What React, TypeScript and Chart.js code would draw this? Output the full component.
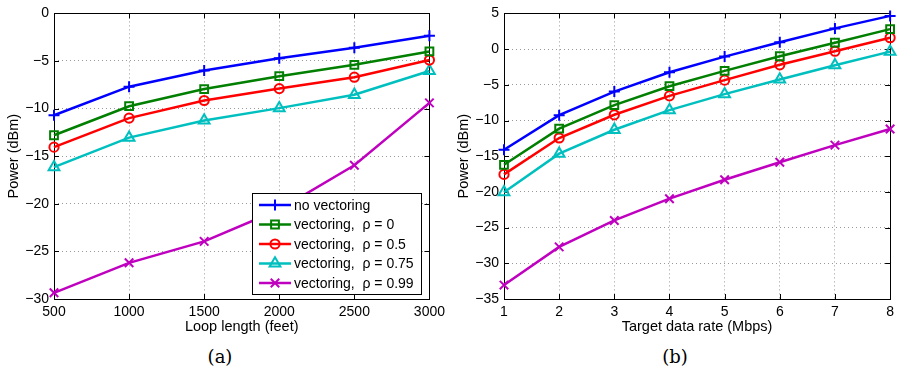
import React, { useEffect, useRef } from 'react';
import { Chart, registerables } from 'chart.js';

Chart.register(...registerables);

// ---------- data ----------
const seriesLabels = [
  'no vectoring',
  'vectoring,  ρ = 0',
  'vectoring,  ρ = 0.5',
  'vectoring,  ρ = 0.75',
  'vectoring,  ρ = 0.99',
];
const seriesColors = ['#0000ff', '#007f00', '#ff0000', '#00bfbf', '#bf00bf'];
const seriesMarkers = ['cross', 'rect', 'circle', 'triangle', 'crossRot'];
const markerSizes = [5.5, 5.5, 4.6, 6.2, 6];

// (a) power vs loop length
const loopLengthFeet = [500, 1000, 1500, 2000, 2500, 3000];
const aNoVectoring = [-10.7, -7.7, -6.0, -4.7, -3.6, -2.35];
const aRho0 = [-12.8, -9.75, -7.95, -6.6, -5.4, -4.0];
const aRho05 = [-14.05, -11.0, -9.15, -7.9, -6.7, -4.9];
const aRho075 = [-16.15, -13.05, -11.25, -9.95, -8.55, -6.05];
const aRho099 = [-29.35, -26.2, -23.95, -20.6, -15.95, -9.4];
const aXTicks = [500, 1000, 1500, 2000, 2500, 3000];
const aYTicks = [-30, -25, -20, -15, -10, -5, 0];

// (b) power vs target data rate
const dataRateMbps = [1, 2, 3, 4, 5, 6, 7, 8];
const bNoVectoring = [-14.1, -9.25, -5.95, -3.25, -1.05, 0.95, 2.9, 4.65];
const bRho0 = [-16.2, -11.15, -7.85, -5.2, -3.05, -1.0, 0.9, 2.8];
const bRho05 = [-17.55, -12.45, -9.2, -6.55, -4.35, -2.2, -0.3, 1.6];
const bRho075 = [-20.05, -14.65, -11.3, -8.55, -6.3, -4.25, -2.25, -0.35];
const bRho099 = [-33.05, -27.7, -24.0, -20.95, -18.3, -15.85, -13.45, -11.2];
const bXTicks = [1, 2, 3, 4, 5, 6, 7, 8];
const bYTicks = [-35, -30, -25, -20, -15, -10, -5, 0, 5];

const FONT = '"Liberation Sans", Arial, sans-serif';

function drawMarker(ctx: CanvasRenderingContext2D, style: string, x: number, y: number, r: number) {
  ctx.beginPath();
  if (style === 'cross') {
    ctx.moveTo(x - r, y); ctx.lineTo(x + r, y);
    ctx.moveTo(x, y - r); ctx.lineTo(x, y + r);
  } else if (style === 'crossRot') {
    const d = r * Math.SQRT1_2;
    ctx.moveTo(x - d, y - d); ctx.lineTo(x + d, y + d);
    ctx.moveTo(x - d, y + d); ctx.lineTo(x + d, y - d);
  } else if (style === 'rect') {
    const s = r * Math.SQRT1_2;
    ctx.rect(x - s, y - s, 2 * s, 2 * s);
  } else if (style === 'circle') {
    ctx.arc(x, y, r, 0, Math.PI * 2);
  } else if (style === 'triangle') {
    ctx.moveTo(x, y - r);
    ctx.lineTo(x + r * 0.866, y + r * 0.5);
    ctx.lineTo(x - r * 0.866, y + r * 0.5);
    ctx.closePath();
  }
  ctx.stroke();
}

const boxPlugin = {
  id: 'boxTicks',
  beforeDatasetsDraw(chart: any) {
    const { ctx, chartArea: ca } = chart;
    const xs = chart.scales.x;
    const ys = chart.scales.y;
    ctx.save();
    ctx.strokeStyle = '#000';
    ctx.lineWidth = 1;
    ctx.strokeRect(Math.round(ca.left) + 0.5, Math.round(ca.top) + 0.5, Math.round(ca.right - ca.left), Math.round(ca.bottom - ca.top));
    const tl = 5;
    ctx.beginPath();
    xs.ticks.forEach((t: any) => {
      const px = Math.round(xs.getPixelForValue(t.value)) + 0.5;
      ctx.moveTo(px, ca.bottom); ctx.lineTo(px, ca.bottom - tl);
      ctx.moveTo(px, ca.top); ctx.lineTo(px, ca.top + tl);
    });
    ys.ticks.forEach((t: any) => {
      const py = Math.round(ys.getPixelForValue(t.value)) + 0.5;
      ctx.moveTo(ca.left, py); ctx.lineTo(ca.left + tl, py);
      ctx.moveTo(ca.right, py); ctx.lineTo(ca.right - tl, py);
    });
    ctx.stroke();
    ctx.restore();
  },
  afterDatasetsDraw(chart: any, _args: any, opts: any) {
    if (!opts || !opts.legend) return;
    const { ctx, chartArea: ca } = chart;
    const w = 169, h = 101;
    const x0 = Math.round(ca.right - 8 - w);
    const y0 = Math.round(ca.bottom - 5 - h);
    ctx.save();
    ctx.fillStyle = '#fff';
    ctx.fillRect(x0, y0, w, h);
    ctx.strokeStyle = '#000';
    ctx.lineWidth = 1;
    ctx.strokeRect(x0 + 0.5, y0 + 0.5, w, h);
    ctx.font = '14px ' + FONT;
    ctx.textBaseline = 'middle';
    ctx.textAlign = 'left';
    chart.data.datasets.forEach((ds: any, i: number) => {
      const cy = y0 + 12 + i * 19.5;
      ctx.strokeStyle = ds.borderColor;
      ctx.lineWidth = 2.5;
      ctx.beginPath();
      ctx.moveTo(x0 + 7, cy);
      ctx.lineTo(x0 + 39, cy);
      ctx.stroke();
      ctx.lineWidth = 2;
      drawMarker(ctx, ds.pointStyle, x0 + 23, cy, ds.pointRadius);
      ctx.fillStyle = '#000';
      ctx.fillText(ds.label, x0 + 42, cy + 1);
    });
    ctx.restore();
  },
};

type PanelProps = {
  xs: number[];
  series: number[][];
  xTicks: number[];
  yTicks: number[];
  xTitle: string;
  rightPad: number;
  width: number;
  legend: boolean;
};

function Panel({ xs, series, xTicks, yTicks, xTitle, rightPad, width, legend }: PanelProps) {
  const ref = useRef<HTMLCanvasElement | null>(null);
  useEffect(() => {
    if (!ref.current) return;
    const fmt = (v: any) => String(v).replace('-', '\u2212');
    const chart = new Chart(ref.current, {
      type: 'line',
      data: {
        datasets: series.map((vals, i) => ({
          label: seriesLabels[i],
          data: xs.map((x, j) => ({ x, y: vals[j] })),
          borderColor: seriesColors[i],
          backgroundColor: 'transparent',
          pointBackgroundColor: 'transparent',
          pointBorderColor: seriesColors[i],
          pointStyle: seriesMarkers[i] as any,
          pointRadius: markerSizes[i],
          pointBorderWidth: 2,
          borderWidth: 2.5,
          tension: 0,
          clip: false as any,
        })),
      },
      options: {
        animation: false,
        responsive: false,
        layout: { padding: { top: 12, right: rightPad, left: 0, bottom: 0 } },
        plugins: {
          legend: { display: false },
          tooltip: { enabled: false },
          boxTicks: { legend },
        } as any,
        scales: {
          x: {
            type: 'linear',
            min: xTicks[0],
            max: xTicks[xTicks.length - 1],
            afterBuildTicks: (s: any) => { s.ticks = xTicks.map((v) => ({ value: v })); },
            afterFit: (s: any) => { s.height = 41; },
            ticks: { color: '#000', font: { family: FONT, size: 14 }, padding: 5, callback: fmt, maxRotation: 0, autoSkip: false },
            grid: { color: '#999', lineWidth: 1, drawTicks: false },
            border: { display: false, dash: [1, 3] },
            title: { display: true, text: xTitle, color: '#000', font: { family: FONT, size: 14.5 }, padding: { top: 0, bottom: 4 } },
          },
          y: {
            type: 'linear',
            min: yTicks[0],
            max: yTicks[yTicks.length - 1],
            afterBuildTicks: (s: any) => { s.ticks = yTicks.map((v) => ({ value: v })); },
            afterFit: (s: any) => { s.width = 54; },
            ticks: { color: '#000', font: { family: FONT, size: 14 }, padding: 5, callback: fmt, autoSkip: false },
            grid: { color: '#999', lineWidth: 1, drawTicks: false },
            border: { display: false, dash: [1, 3] },
            title: { display: true, text: 'Power (dBm)', color: '#000', font: { family: FONT, size: 14.5 }, padding: { top: 5, bottom: 0 } },
          },
        },
      },
      plugins: [boxPlugin as any],
    });
    return () => chart.destroy();
  }, []);
  return <canvas ref={ref} width={width} height={340} style={{ width, height: 340, display: 'block' }} />;
}

const captionStyle: React.CSSProperties = {
  position: 'absolute',
  top: 346,
  fontFamily: '"DejaVu Serif", "Liberation Serif", serif',
  fontSize: 18,
  lineHeight: '22px',
  textAlign: 'center',
  width: 60,
  color: '#000',
};

export default function App() {
  return (
    <div style={{ position: 'absolute', left: 0, top: 0, width: 899, height: 372, background: '#fff', overflow: 'hidden' }}>
      <div style={{ position: 'absolute', left: 0, top: 0 }}>
        <Panel
          xs={loopLengthFeet}
          series={[aNoVectoring, aRho0, aRho05, aRho075, aRho099]}
          xTicks={aXTicks}
          yTicks={aYTicks}
          xTitle="Loop length (feet)"
          rightPad={19}
          width={450}
          legend={true}
        />
      </div>
      <div style={{ position: 'absolute', left: 450, top: 0 }}>
        <Panel
          xs={dataRateMbps}
          series={[bNoVectoring, bRho0, bRho05, bRho075, bRho099]}
          xTicks={bXTicks}
          yTicks={bYTicks}
          xTitle="Target data rate (Mbps)"
          rightPad={7}
          width={449}
          legend={false}
        />
      </div>
      <div style={{ ...captionStyle, left: 190 }}>(a)</div>
      <div style={{ ...captionStyle, left: 645 }}>(b)</div>
    </div>
  );
}
